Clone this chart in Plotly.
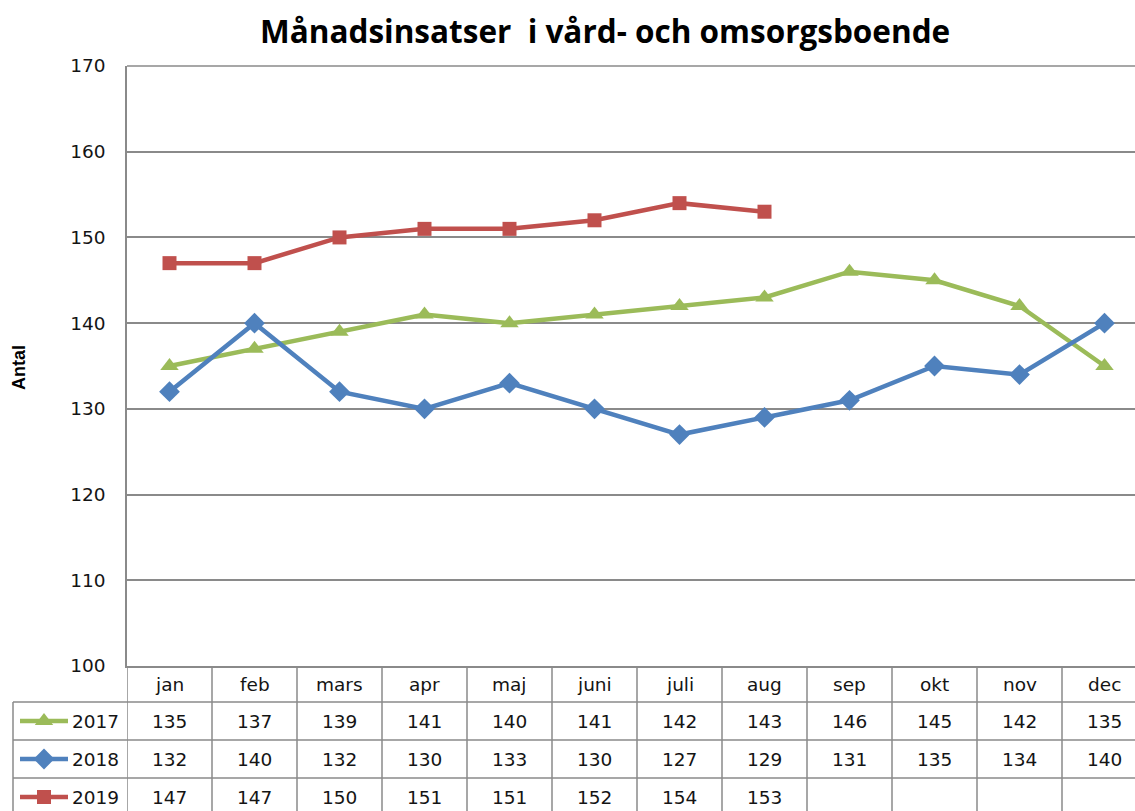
import plotly.graph_objects as go

# Monthly values per year
months = ["jan", "feb", "mars", "apr", "maj", "juni", "juli", "aug", "sep", "okt", "nov", "dec"]
years = ["2017", "2018", "2019"]
v2017 = [135, 137, 139, 141, 140, 141, 142, 143, 146, 145, 142, 135]
v2018 = [132, 140, 132, 130, 133, 130, 127, 129, 131, 135, 134, 140]
v2019 = [147, 147, 150, 151, 151, 152, 154, 153]
y_ticks = [100, 110, 120, 130, 140, 150, 160, 170]

W, H = 1135, 811
series = [
    (years[0], v2017, "#9BBB59", "triangle-up", 16),
    (years[1], v2018, "#4F81BD", "diamond", 16),
    (years[2], v2019, "#C0504D", "square", 14),
]

GRID = "#8A8A8A"
TXT = "#141414"
TABLE_FONT = dict(family="DejaVu Sans", size=18.5, color=TXT)


def px(x):
    return x / W


def py(y):
    return 1 - y / H


# Plot area (pixels)
PL, PT, PB = 127, 66, 666
COLW = 85
# table row boundaries and centers (pixels)
row_edges = [666, 702, 740, 778, 816]
row_centers = [(a + b) / 2 for a, b in zip(row_edges[:-1], row_edges[1:])]

fig = go.Figure()

for name, vals, color, sym, size in series:
    fig.add_trace(go.Scatter(
        x=months[:len(vals)], y=vals, mode="lines+markers", name=name,
        line=dict(color=color, width=4.5),
        marker=dict(symbol=sym, size=size, color=color),
        showlegend=False, cliponaxis=False,
    ))

# Legend keys inside the data table (overlay axes in pixel units)
for k, (name, vals, color, sym, size) in enumerate(series):
    yc = row_centers[k + 1]
    fig.add_trace(go.Scatter(
        x=[20, 68], y=[yc, yc], mode="lines", line=dict(color=color, width=4.5),
        xaxis="x2", yaxis="y2", showlegend=False, hoverinfo="skip",
    ))
    fig.add_trace(go.Scatter(
        x=[44], y=[yc], mode="markers", marker=dict(symbol=sym, size=size, color=color),
        xaxis="x2", yaxis="y2", showlegend=False, hoverinfo="skip",
    ))

shapes = []
line = dict(color=GRID, width=1.5)
# top frame line
shapes.append(dict(type="line", xref="paper", yref="paper", x0=px(PL), x1=1,
                   y0=py(PT), y1=py(PT), line=line))
# table vertical lines on category boundaries
for i in range(len(months)):
    shapes.append(dict(type="line", xref="x", yref="paper", x0=i - 0.5, x1=i - 0.5,
                       y0=py(PB), y1=0, line=line))
# left edge of the legend column
shapes.append(dict(type="line", xref="paper", yref="paper", x0=px(13), x1=px(13),
                   y0=py(row_edges[1]), y1=0, line=line))
# table horizontal lines
for e in row_edges[1:4]:
    shapes.append(dict(type="line", xref="paper", yref="paper", x0=px(13), x1=1,
                       y0=py(e), y1=py(e), line=line))

annotations = []
# header row with month names
for i, m in enumerate(months):
    annotations.append(dict(x=m, y=py(row_centers[0]), xref="x", yref="paper",
                            xanchor="center", yanchor="middle",
                            text=m, showarrow=False, font=TABLE_FONT))
# value rows
for k, (name, vals, color, sym, size) in enumerate(series):
    yc = py(row_centers[k + 1])
    annotations.append(dict(x=px(70), y=yc, xref="paper", yref="paper",
                            xanchor="left", yanchor="middle",
                            text=name, showarrow=False, font=TABLE_FONT))
    for i, v in enumerate(vals):
        annotations.append(dict(x=months[i], y=yc, xref="x", yref="paper",
                                xanchor="center", yanchor="middle",
                                text=str(v), showarrow=False, font=TABLE_FONT))

# title and y-axis title
annotations.append(dict(x=px(605), y=py(30), xref="paper", yref="paper",
                        xanchor="center", yanchor="middle",
                        text="<b>Månadsinsatser  i vård- och omsorgsboende</b>",
                        showarrow=False, font=dict(family="Open Sans", size=31.5, color="#000000")))
annotations.append(dict(x=px(19), y=py(368), xref="paper", yref="paper",
                        xanchor="center", yanchor="middle", textangle=-90,
                        text="<b>Antal</b>", showarrow=False,
                        font=dict(family="Liberation Sans", size=18, color="#000000")))

fig.update_layout(
    width=W, height=H,
    margin=dict(l=0, r=0, t=0, b=0, autoexpand=False),
    paper_bgcolor="white", plot_bgcolor="rgba(0,0,0,0)",
    xaxis=dict(
        type="category", categoryorder="array", categoryarray=months,
        domain=[px(PL), 1], range=[-0.5, -0.5 + (W - PL) / COLW],
        showticklabels=False, ticks="", showgrid=False, zeroline=False,
        showline=True, linecolor=GRID, linewidth=1.5,
    ),
    yaxis=dict(
        domain=[py(PB), py(PT)], range=[100, 170], tickvals=y_ticks,
        showgrid=True, gridcolor=GRID, gridwidth=1.5, zeroline=False,
        showline=True, linecolor=GRID, linewidth=1.5, ticks="",
        ticklabelstandoff=16, tickfont=dict(family="DejaVu Sans", size=18.5, color=TXT),
    ),
    xaxis2=dict(domain=[0, 1], range=[0, W], visible=False, anchor="y2", fixedrange=True),
    yaxis2=dict(domain=[0, 1], range=[H, 0], visible=False, anchor="x2", fixedrange=True),
    shapes=shapes,
    annotations=annotations,
)

fig.write_html("out.html")
